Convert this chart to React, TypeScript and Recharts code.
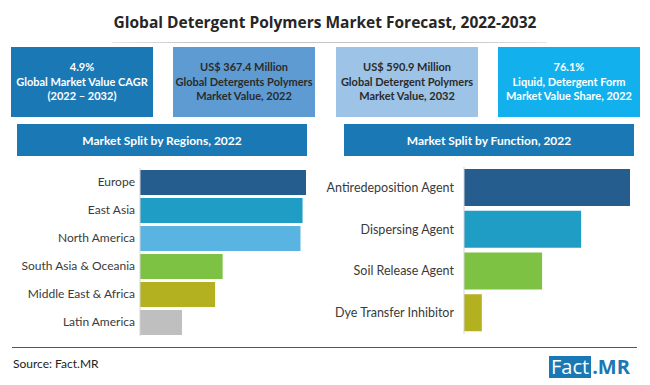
import { Bar, BarChart, Cell, XAxis, YAxis } from "recharts";

const regionNames = ["Europe", "East Asia", "North America", "South Asia & Oceania", "Middle East & Africa", "Latin America"];
const regionShares = [24.1, 23.6, 23.3, 12.0, 10.9, 6.1];

const functionNames = ["Antiredeposition Agent", "Dispersing Agent", "Soil Release Agent", "Dye Transfer Inhibitor"];
const functionShares = [43.8, 30.9, 20.6, 4.7];

const highlightLines = [
  ["4.9%", "Global Market Value CAGR", "(2022 – 2032)"],
  ["US$ 367.4 Million", "Global Detergents Polymers", "Market Value, 2022"],
  ["US$ 590.9 Million", "Global Detergent Polymers", "Market Value, 2032"],
  ["76.1%", "Liquid, Detergent Form", "Market Value Share, 2022"],
];

const sectionTitles = ["Market Split by Regions, 2022", "Market Split by Function, 2022"];

const REGION_COLORS = ["#265d8f", "#1f9dc5", "#5ab4e1", "#7dc243", "#b3b11f", "#bfbfbf"];
const FUNCTION_COLORS = ["#265d8f", "#1f9dc5", "#7dc243", "#b3b11f"];
const BOX_FILLS = ["#1a78b4", "#5e9bd3", "#9dc3e6", "#12b0ec"];
const BOX_TEXT = ["#ffffff", "#2b2b2b", "#2b2b2b", "#ffffff"];
const BOX_LEFT = [11, 173, 336, 498];
const FONT = "Lato, 'Open Sans', sans-serif";

function NameTick({ x, y, payload, fontSize }: { x?: number; y?: number; payload?: { value: string }; fontSize: number }) {
  return (
    <text x={x} y={y} dy={4} textAnchor="end" fontSize={fontSize} fill="#3a3a3a" fontFamily={FONT}>
      {payload?.value}
    </text>
  );
}

function SplitChart({
  names, values, colors, left, width, labelWidth, marginTop, marginBottom, barSize, tickSize, fontSize,
}: {
  names: string[]; values: number[]; colors: string[]; left: number; width: number; labelWidth: number;
  marginTop: number; marginBottom: number; barSize: number; tickSize: number; fontSize: number;
}) {
  const data = names.map((name, i) => ({ name, value: values[i] }));
  return (
    <div style={{ position: "absolute", left, top: 160, width, height: 180 }}>
      <BarChart width={width} height={180} data={data} layout="vertical"
        margin={{ top: marginTop, right: 0, bottom: marginBottom, left: 0 }} barSize={barSize}>
        <XAxis type="number" hide domain={[0, "dataMax"]} />
        <YAxis type="category" dataKey="name" width={labelWidth} tickLine={false} tickSize={tickSize} tickMargin={2}
          axisLine={{ stroke: "#d4d4d4" }} tick={<NameTick fontSize={fontSize} />} interval={0} />
        <Bar dataKey="value" isAnimationActive={false}>
          {data.map((_, i) => (
            <Cell key={i} fill={colors[i]} />
          ))}
        </Bar>
      </BarChart>
    </div>
  );
}

export default function App() {
  return (
    <div style={{ position: "absolute", left: 0, top: 0, width: 650, height: 385, background: "#fff", fontFamily: FONT, overflow: "hidden" }}>
      <div style={{ position: "absolute", left: 0, top: 11, width: 650, textAlign: "center", fontSize: 15.5, fontWeight: 700, color: "#262626", fontFamily: "'Open Sans', sans-serif" }}>
        Global Detergent Polymers Market Forecast, 2022-2032
      </div>
      <div style={{ position: "absolute", left: 112, top: 42, width: 435, height: 1, background: "linear-gradient(90deg, #e6e6e6, #c4c4c4 20%, #c4c4c4 80%, #e6e6e6)" }} />

      {highlightLines.map((lines, i) => (
        <div key={i} style={{
          position: "absolute", left: BOX_LEFT[i], top: 47, width: 142, height: 70, background: BOX_FILLS[i],
          color: BOX_TEXT[i], fontWeight: 700, fontSize: 11, lineHeight: "14.5px", textAlign: "center", whiteSpace: "nowrap",
          display: "flex", flexDirection: "column", justifyContent: "center",
        }}>
          {lines.map((t, j) => <div key={j}>{t}</div>)}
        </div>
      ))}

      {sectionTitles.map((t, i) => (
        <div key={i} style={{
          position: "absolute", left: i === 0 ? 17 : 344, top: 124, width: 290, height: 32, background: "#1a78b4",
          color: "#fff", fontWeight: 700, fontSize: 12, display: "flex", alignItems: "center", justifyContent: "center",
        }}>{t}</div>
      ))}

      <SplitChart names={regionNames} values={regionShares} colors={REGION_COLORS} left={10} width={296}
        labelWidth={130} marginTop={8} marginBottom={4} barSize={25} tickSize={3} fontSize={12} />
      <SplitChart names={functionNames} values={functionShares} colors={FUNCTION_COLORS} left={325} width={305}
        labelWidth={139} marginTop={7} marginBottom={6} barSize={37} tickSize={8} fontSize={12.5} />

      <div style={{ position: "absolute", left: 12, top: 347, width: 625, height: 1, background: "#555" }} />
      <div style={{ position: "absolute", left: 13, top: 356, fontSize: 12, color: "#222" }}>Source: Fact.MR</div>
      <div style={{ position: "absolute", left: 549, top: 356, height: 22, display: "flex", alignItems: "center", fontSize: 20, fontFamily: "'Open Sans', sans-serif" }}>
        <span style={{ background: "#1a78b4", color: "#fff", padding: "0 2px", lineHeight: "22px" }}>Fact</span>
        <span style={{ color: "#1a78b4", fontWeight: 700, lineHeight: "22px", marginLeft: 1 }}>.MR</span>
      </div>
    </div>
  );
}
